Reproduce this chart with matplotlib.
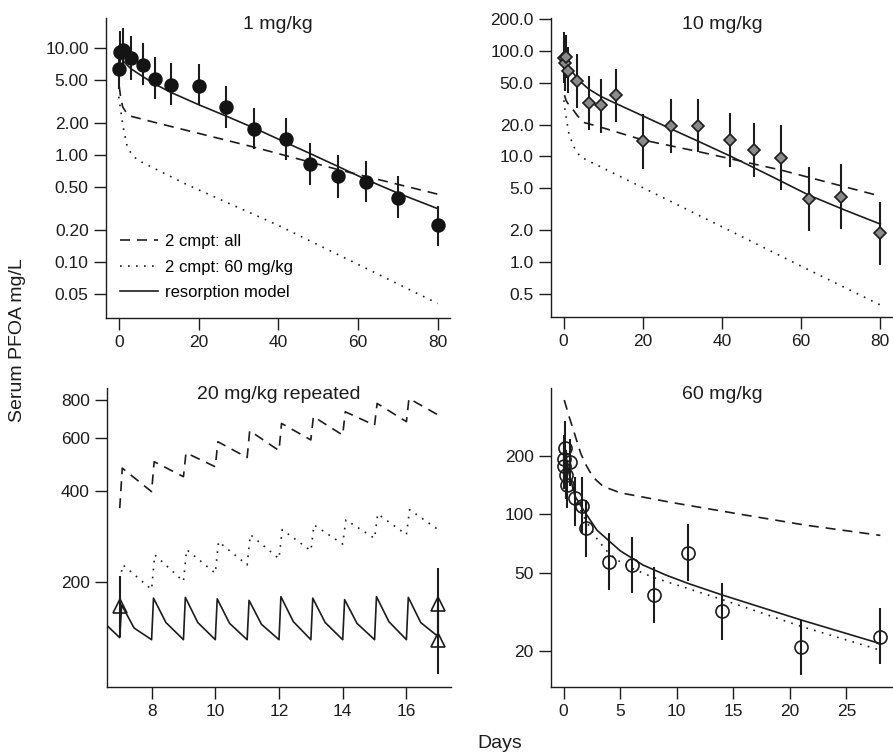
import numpy as np
import matplotlib
matplotlib.use("Agg")
import matplotlib.pyplot as plt
from matplotlib.lines import Line2D
from matplotlib.ticker import NullLocator

# ---- 1 mg/kg ----
obs1_days = [0.08, 0.25, 1, 3, 6, 9, 13, 20, 27, 34, 42, 48, 55, 62, 70, 80]
obs1_mean = [6.4, 9.2, 9.6, 8.0, 6.9, 5.1, 4.5, 4.4, 2.8, 1.74, 1.41, 0.82, 0.64, 0.56, 0.40, 0.22]
obs1_lo = [4.1, 6.0, 6.2, 5.0, 4.5, 3.3, 2.9, 2.9, 1.78, 1.13, 0.90, 0.52, 0.40, 0.36, 0.26, 0.14]
obs1_hi = [9.9, 14.5, 15.2, 12.8, 11.0, 8.2, 7.2, 7.1, 4.4, 2.77, 2.23, 1.29, 1.0, 0.88, 0.64, 0.33]

res1_days = [0.5, 1, 3, 6, 9, 13, 20, 27, 34, 42, 48, 55, 62, 70, 80]
res1_vals = [8.4, 7.6, 6.4, 5.4, 4.6, 3.85, 2.95, 2.3, 1.78, 1.3, 1.03, 0.78, 0.59, 0.44, 0.315]
all1_days = [0.1, 0.5, 1, 2, 3, 10, 34, 55, 80]
all1_vals = [4.4, 3.4, 2.8, 2.45, 2.3, 1.97, 1.18, 0.73, 0.43]
c60_1_days = [0, 0.5, 1, 2, 3, 4.6, 17, 40, 60, 80]
c60_1_vals = [3.5, 2.6, 1.9, 1.25, 1.05, 0.9, 0.53, 0.22, 0.095, 0.041]

# ---- 10 mg/kg ----
obs2_days = [0.1, 0.3, 0.6, 1.1, 3.3, 6.3, 9.4, 13.2, 20, 27, 34, 42, 48, 55, 62, 70, 80]
obs2_mean = [85, 76, 88, 64, 52, 32.3, 30.5, 38.5, 13.9, 19.4, 19.5, 14.2, 11.4, 9.7, 3.94, 4.11, 1.87]
obs2_lo = [50, 42, 55, 40, 29, 17.9, 16.7, 21.2, 7.6, 10.7, 11.0, 7.9, 6.4, 4.75, 1.98, 2.05, 0.94]
obs2_hi = [150, 135, 140, 110, 93, 57.4, 53.8, 67.9, 25.1, 34.8, 35.3, 26.0, 20.9, 19.7, 7.9, 8.4, 3.7]

res2_days = [0.1, 0.6, 1.5, 2.5, 4, 6.3, 9.4, 13.2, 20, 27, 34, 42, 52, 62, 71, 80]
res2_vals = [85, 79, 69, 61, 52, 43.5, 37, 31.7, 24.2, 18.3, 13.9, 10.1, 6.6, 4.28, 3.1, 2.28]
all2_days = [0.2, 0.6, 1, 2, 3.4, 5, 8.8, 20, 34, 55, 80]
all2_vals = [38, 34, 32, 29, 24.5, 21, 19.2, 14.3, 11.1, 7.4, 4.2]
c60_2_days = [0.05, 0.5, 1.3, 2.5, 4.2, 20, 40, 60, 80]
c60_2_vals = [34, 25, 16.6, 12.4, 9.9, 5.05, 2.15, 0.91, 0.39]

# ---- 20 mg/kg repeated ----
dose_days = [7, 8, 9, 10, 11, 12, 13, 14, 15, 16]
obs3_days = [7.0, 17.0, 17.0]
obs3_mean = [167, 169, 129]
obs3_lo = [132, 130, 99]
obs3_hi = [209, 222, 168]

res3_pre_days = [6.62, 7.0]
res3_pre_vals = [143, 131]
res3_peak = [168, 177, 178, 176, 174, 179, 177, 175, 179, 178]
res3_mid = [141, 147, 147, 146, 145, 148, 147, 146, 148, 147]
res3_trough = [129, 129, 129, 129, 129, 129, 129, 129, 129, 132]

all3_pre_days = [7.0]
all3_pre_vals = [351]
all3_peak = [476, 500, 535, 582, 633, 669, 705, 731, 779, 809]
all3_trough = [398, 446, 481, 516, 544, 590, 612, 660, 678, 713]

c60_3_pre_days = [7.0]
c60_3_pre_vals = [204]
c60_3_peak = [228, 246, 256, 272, 287, 298, 309, 321, 336, 347]
c60_3_trough = [189, 201, 214, 228, 239, 254, 267, 279, 287, 298]

# ---- 60 mg/kg ----
obs4_days = [0.02, 0.06, 0.15, 0.25, 0.33, 0.6, 1.0, 1.6, 2.0, 4, 6, 8, 11, 14, 21, 28]
obs4_mean = [192, 177, 220, 160, 142, 186, 122, 111, 85.5, 56.8, 55.1, 38.6, 63.7, 31.8, 20.9, 23.5]
obs4_lo = [145, 135, 165, 120, 108, 140, 87, 80, 60.6, 40.7, 39.4, 27.7, 45.6, 22.7, 14.9, 17.1]
obs4_hi = [255, 235, 300, 215, 190, 245, 156, 155, 118, 80, 76.8, 53.9, 88.9, 44.3, 28.8, 33.0]

res4_days = [0, 0.5, 1, 1.76, 2.94, 5, 7, 9, 11, 14, 21, 28]
res4_vals = [230, 160, 124, 105, 83, 65, 55, 48.9, 44.2, 38.6, 28.7, 21.7]
all4_days = [0.05, 0.5, 1, 1.5, 2, 2.6, 3.5, 5, 9.7, 15.5, 21.4, 28]
all4_vals = [386, 315, 255, 206, 178, 155, 139, 129, 114.6, 100.4, 88, 78]
c60_4_days = [0, 0.5, 1, 1.5, 2, 3, 4, 5, 6, 7.9, 14.1, 21, 28]
c60_4_vals = [240, 165, 125, 105, 92, 74, 63, 57, 53, 47.5, 36.4, 26.6, 20.1]

plt.rcParams['font.family'] = ['Liberation Sans', 'DejaVu Sans']

W, H = 893, 754
fig = plt.figure(figsize=(W / 100, H / 100), dpi=100)
INK = '#1c1c1c'
LW = 1.2
DASH = (0, (6, 4.2))
DOT = (0, (1, 3.8))


def add_ax(l, t, r, b):
    return fig.add_axes([l / W, 1 - b / H, (r - l) / W, (b - t) / H])


def style(ax, xlim, ylim, xticks, yticks, ylabels):
    for s in ['top', 'right']:
        ax.spines[s].set_visible(False)
    for s in ['left', 'bottom']:
        ax.spines[s].set_linewidth(1.0)
        ax.spines[s].set_color(INK)
    ax.set_yscale('log')
    ax.set_xlim(*xlim)
    ax.set_ylim(*ylim)
    ax.set_xticks(xticks)
    ax.set_yticks(yticks, labels=ylabels)
    ax.yaxis.set_minor_locator(NullLocator())
    ax.xaxis.set_minor_locator(NullLocator())
    ax.tick_params(direction='out', length=8.5, width=1.0, labelsize=12.5,
                   pad=4, colors=INK)


def models(ax, res, allc, c60):
    ax.plot(res[0], res[1], color=INK, lw=LW)
    ax.plot(allc[0], allc[1], color=INK, lw=LW, ls=DASH)
    ax.plot(c60[0], c60[1], color=INK, lw=LW, ls=DOT)


def obs(ax, days, mean, lo, hi, **kw):
    mean = np.array(mean)
    err = [mean - np.array(lo), np.array(hi) - mean]
    ax.errorbar(days, mean, yerr=err, fmt='none', ecolor=INK, elinewidth=1.5,
                capsize=0, zorder=3)
    ax.plot(days, mean, ls='none', zorder=4, **kw)


def title(ax, txt):
    ax.text(0.5, 0.977, txt, transform=ax.transAxes, ha='center', va='center',
            fontsize=14, color=INK)


def sawtooth(pre_days, pre_vals, peaks, troughs, mids=None, rise=0.06, mid_off=0.45):
    t = list(pre_days)
    v = list(pre_vals)
    for i, d in enumerate(dose_days):
        t.append(d + rise)
        v.append(peaks[i])
        if mids is not None:
            t.append(d + mid_off)
            v.append(mids[i])
        t.append(d + 1)
        v.append(troughs[i])
    return t, v


# panel 1
ax1 = add_ax(106, 18, 450.5, 318)
style(ax1, (-3.2, 83.2), (0.030, 19.0), [0, 20, 40, 60, 80],
      [0.05, 0.1, 0.2, 0.5, 1, 2, 5, 10],
      ['0.05', '0.10', '0.20', '0.50', '1.00', '2.00', '5.00', '10.00'])
models(ax1, (res1_days, res1_vals), (all1_days, all1_vals), (c60_1_days, c60_1_vals))
obs(ax1, obs1_days, obs1_mean, obs1_lo, obs1_hi, marker='o', ms=9.4,
    mfc='#141414', mec='#141414')
title(ax1, '1 mg/kg')
handles = [Line2D([], [], color=INK, lw=LW, ls=DASH),
           Line2D([], [], color=INK, lw=LW, ls=DOT),
           Line2D([], [], color=INK, lw=LW)]
ax1.legend(handles, ['2 cmpt: all', '2 cmpt: 60 mg/kg', 'resorption model'],
           loc='lower left', bbox_to_anchor=(0.04, 0.06), frameon=False,
           fontsize=12, handlelength=2.3, handletextpad=0.4, labelspacing=0.62,
           borderpad=0, borderaxespad=0)

# panel 2
ax2 = add_ax(551, 18, 893, 317)
style(ax2, (-3.2, 83.2), (0.30, 205), [0, 20, 40, 60, 80],
      [0.5, 1, 2, 5, 10, 20, 50, 100, 200],
      ['0.5', '1.0', '2.0', '5.0', '10.0', '20.0', '50.0', '100.0', '200.0'])
models(ax2, (res2_days, res2_vals), (all2_days, all2_vals), (c60_2_days, c60_2_vals))
obs(ax2, obs2_days, obs2_mean, obs2_lo, obs2_hi, marker='D', ms=6.6,
    mfc='#8a8a8a', mec=INK, mew=1.2)
title(ax2, '10 mg/kg')

# panel 3
ax3 = add_ax(107, 388, 451, 687)
style(ax3, (6.6, 17.4), (90, 876), [8, 10, 12, 14, 16],
      [200, 400, 600, 800], ['200', '400', '600', '800'])
models(ax3,
       sawtooth(res3_pre_days, res3_pre_vals, res3_peak, res3_trough, res3_mid),
       sawtooth(all3_pre_days, all3_pre_vals, all3_peak, all3_trough, rise=0.08),
       sawtooth(c60_3_pre_days, c60_3_pre_vals, c60_3_peak, c60_3_trough, rise=0.1))
obs(ax3, obs3_days, obs3_mean, obs3_lo, obs3_hi, marker='^', ms=9.4,
    mfc='none', mec=INK, mew=1.2)
title(ax3, '20 mg/kg repeated')

# panel 4
ax4 = add_ax(551, 388, 893, 687)
style(ax4, (-1.12, 29.12), (13.0, 445), [0, 5, 10, 15, 20, 25],
      [20, 50, 100, 200], ['20', '50', '100', '200'])
models(ax4, (res4_days, res4_vals), (all4_days, all4_vals), (c60_4_days, c60_4_vals))
obs(ax4, obs4_days, obs4_mean, obs4_lo, obs4_hi, marker='o', ms=9.4,
    mfc='none', mec=INK, mew=1.2)
title(ax4, '60 mg/kg')

fig.text(18 / W, 1 - 340 / H, 'Serum PFOA mg/L', rotation=90, ha='center',
         va='center', fontsize=14, color=INK)
fig.text(500 / W, 1 - 743 / H, 'Days', ha='center', va='center', fontsize=14,
         color=INK)

fig.savefig('out.png', dpi=100)
